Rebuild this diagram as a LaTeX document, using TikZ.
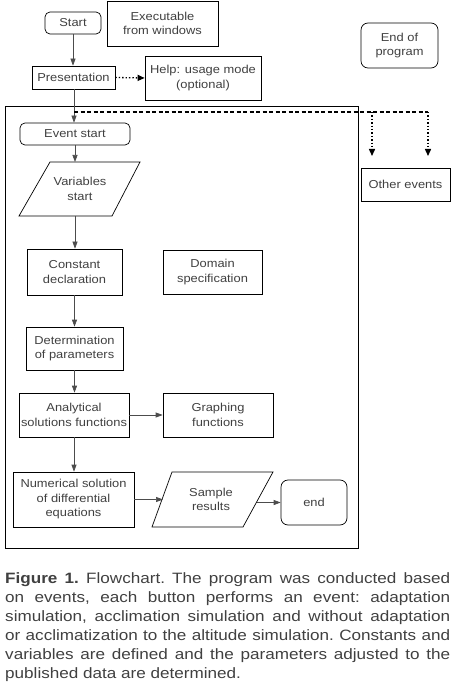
\documentclass[tikz,border=0pt]{standalone}
\usepackage{fontspec}
\setmainfont{Liberation Sans}[FakeStretch=1.12]
\newfontfamily\capfont{Liberation Sans}[FakeStretch=1.14]
\usetikzlibrary{arrows.meta}
\definecolor{txt}{gray}{0.25}
\definecolor{ln}{gray}{0.3}
\tikzset{
  base/.style={inner sep=0pt, align=center, text=txt, font=\fontsize{11.5}{14.5}\selectfont},
  pbox/.style={base, draw=black, line width=0.7pt},
  rbox/.style={pbox, rounded corners=5pt},
  arr/.style={draw=ln, line width=0.7pt, -{Triangle[length=7pt,width=5pt]}},
  darr/.style={draw=black, line width=1.4pt, dotted, -{Triangle[length=7pt,width=6pt]}},
  dline/.style={draw=black, line width=2pt, dash pattern=on 4pt off 2.5pt},
}
\begin{document}
\begin{tikzpicture}[x=1pt,y=-1pt]
\useasboundingbox (0,0) rectangle (456,692);
% top nodes
\node[rbox, minimum width=56pt, minimum height=22pt] (start) at (73,23) {Start};
\node[pbox, minimum width=111pt, minimum height=45pt] (exe) at (162.5,23.5) {Executable\\from windows};
\node[rbox, rounded corners=7pt, minimum width=77pt, minimum height=45pt] (endp) at (399.5,45.5) {End of\\program};
\node[pbox, minimum width=83pt, minimum height=23pt] (pres) at (73.5,77.5) {Presentation};
\node[pbox, minimum width=116pt, minimum height=44pt] (help) at (203,78) {Help: usage mode\\(optional)};
% frame
\node[draw=black, line width=0.7pt, minimum width=353pt, minimum height=442pt, inner sep=0pt] (frame) at (181.5,327) {};
\node[rbox, minimum width=110pt, minimum height=22pt] (evs) at (75,134) {Event start};
% variables start parallelogram
\coordinate (v1) at (50,162); \coordinate (v2) at (140,162);
\coordinate (v3) at (112,216); \coordinate (v4) at (19,216);
\draw[black, line width=0.7pt] (v1) -- (v2) -- (v3) -- (v4) -- cycle;
\node[base] (vars) at (80,189) {Variables\\start};
\coordinate (vtop) at (75,162); \coordinate (vbot) at (75,216);
\node[pbox, minimum width=95pt, minimum height=46pt] (const) at (74.5,272) {Constant\\declaration};
\node[pbox, minimum width=99pt, minimum height=44pt] (dom) at (212.5,272) {Domain\\specification};
\node[pbox, minimum width=97pt, minimum height=43pt] (det) at (74.5,348.5) {Determination\\of parameters};
\node[pbox, minimum width=110pt, minimum height=44pt] (ana) at (74,415) {Analytical\\solutions functions};
\node[pbox, minimum width=110pt, minimum height=44pt] (graph) at (218,415) {Graphing\\functions};
\node[pbox, minimum width=121pt, minimum height=55pt] (num) at (73.5,499.5) {Numerical solution\\of differential\\equations};
% sample results parallelogram
\coordinate (s1) at (172,472); \coordinate (s2) at (273,472);
\coordinate (s3) at (243,527); \coordinate (s4) at (152,527);
\draw[black, line width=0.7pt] (s1) -- (s2) -- (s3) -- (s4) -- cycle;
\node[base] (samp) at (211,499.5) {Sample\\results};
\coordinate (sl) at (163,499.5); \coordinate (sr) at (257,502.5);
\node[rbox, rounded corners=7pt, minimum width=66pt, minimum height=45pt] (endn) at (314,502.5) {end};
\node[pbox, minimum width=89pt, minimum height=33pt] (other) at (405.5,184.5) {Other events};
% connectors
\draw[arr] (start.south) -- (start.south |- pres.north);
\draw[darr, line width=1.3pt] (pres.east) -- (help.west);
\coordinate (j0) at (74,112);
\coordinate (j1) at (372,112); \coordinate (j2) at (428,112);
\coordinate (e1) at (372,156); \coordinate (e2) at (428,156);
\draw[arr] (pres.south -| j0) -- (j0 |- evs.north);
\draw[dline] (j0) -- (j2);
\draw[darr] (j1) -- (e1);
\draw[darr] (j2) -- (e2);
\draw[arr] (evs.south -| vtop) -- (vtop);
\draw[arr] (vbot) -- (vbot |- const.north);
\draw[arr] (const.south) -- (const.south |- det.north);
\draw[arr] (det.south) -- (det.south |- ana.north);
\draw[arr] (ana.east) -- (graph.west);
\draw[arr] (ana.south) -- (ana.south |- num.north);
\draw[arr] (num.east) -- (sl);
\draw[arr] (sr) -- (sr -| endn.west);
% caption
\node[anchor=north west, inner sep=0pt, text width=445pt, align=justify, text=txt,
      font=\capfont\fontsize{15}{19}\selectfont] (cap) at (5,572)
  {\frenchspacing\hyphenpenalty 10000
   \textbf{Figure 1.} Flowchart. The program was conducted based\linebreak
   on events, each button performs an event: adaptation\linebreak
   simulation, acclimation simulation and without adaptation\linebreak
   or acclimatization to the altitude simulation. Constants and\linebreak
   variables are defined and the parameters adjusted to the\linebreak
   published data are determined.};
\end{tikzpicture}
\end{document}
